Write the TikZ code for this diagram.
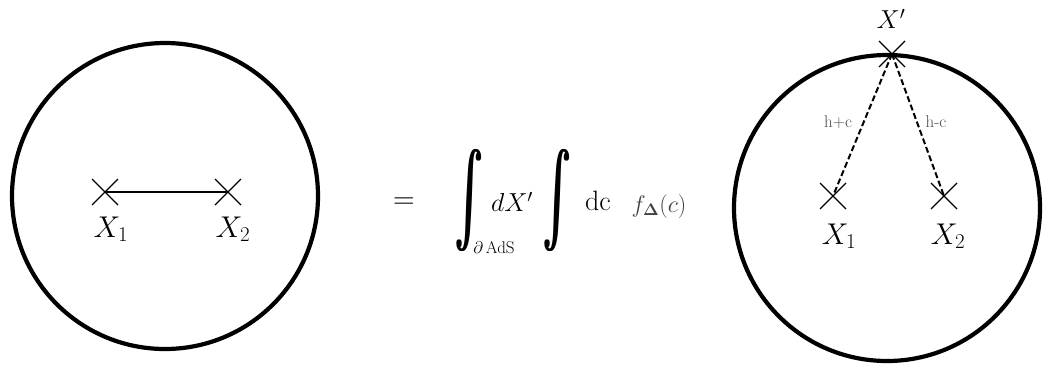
\RequirePackage{fix-cm}
\documentclass[tikz,border=0pt]{standalone}
\usepackage{graphicx}
\usetikzlibrary{shapes.misc}
\newcommand{\heavyint}{\resizebox*{30pt}{102pt}{\rlap{$\textstyle\int$}\kern0.3pt\rlap{$\textstyle\int$}\kern0.3pt$\textstyle\int$}}
\begin{document}
\begin{tikzpicture}[x=1pt,y=-1pt,
  disk/.style={line width=4.2pt},
  crossmark/.style={cross out,draw,line width=1.3pt,minimum size=26pt,inner sep=0pt,outer sep=0pt},
  lbl/.style={font=\fontsize{30}{30}\selectfont,inner sep=0pt},
  small/.style={font=\fontsize{17}{17}\selectfont,text=black!70,inner sep=0pt},
  bigint/.style={inner sep=0pt},
  prop/.style={line width=2pt},
  dprop/.style={line width=2pt,dash pattern=on 6pt off 3pt}]
\useasboundingbox (0,0) rectangle (1047,365);
% left disk
\draw[disk] (165,196) circle (153);
\node[crossmark] (a1) at (105,192) {};
\node[crossmark] (a2) at (228,192) {};
\draw[prop] (a1.center) -- (a2.center);
\node[lbl] (la1) at (111,229) {$X_1$};
\node[lbl] (la2) at (233,229) {$X_2$};
% equation
\node[font=\fontsize{30}{30}\selectfont,inner sep=0pt] (eq) at (404,203) {$=$};
\node[bigint] (int1) at (469,201) {\heavyint};
\node[font=\fontsize{17}{17}\selectfont,inner sep=0pt] (sub) at (494,248) {$\partial\,$AdS};
\node[font=\fontsize{26}{26}\selectfont,inner sep=0pt] (dx) at (512,202) {$dX'$};
\node[bigint] (int2) at (557,201) {\heavyint};
\node[font=\fontsize{28}{28}\selectfont,inner sep=0pt] (dc) at (598,201) {dc};
\node[font=\fontsize{24}{24}\selectfont,inner sep=0pt,text=black!75] (f) at (659,206) {$f_{\mathbf{\Delta}}(c)$};
% right disk
\draw[disk] (887,208) circle (153);
\node[crossmark] (xp) at (892,54) {};
\node[crossmark] (b1) at (833,196) {};
\node[crossmark] (b2) at (944,196) {};
\draw[dprop] (xp.center) -- (b1.center);
\draw[dprop] (xp.center) -- (b2.center);
\node[font=\fontsize{26}{26}\selectfont,inner sep=0pt] (lxp) at (891,19) {$X'$};
\node[small] (hp) at (838,122) {h+c};
\node[small] (hm) at (936,122) {h-c};
\node[lbl] (lb1) at (839,236) {$X_1$};
\node[lbl] (lb2) at (948,236) {$X_2$};
\end{tikzpicture}
\end{document}
